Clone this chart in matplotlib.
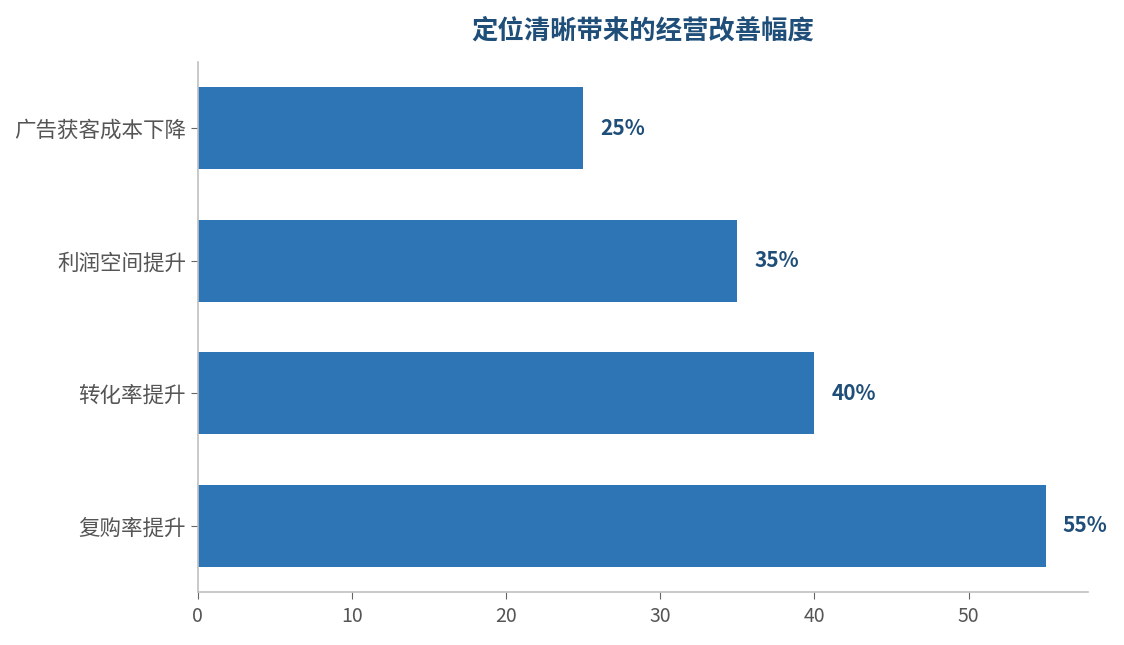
import matplotlib
matplotlib.use("Agg")
import matplotlib.pyplot as plt

plt.rcParams['font.family'] = ['Noto Sans CJK SC', 'DejaVu Sans']

categories = ["复购率提升", "转化率提升", "利润空间提升", "广告获客成本下降"]
values = [55, 40, 35, 25]

bar_color = '#2e75b6'
title_color = '#1f4e79'

fig = plt.figure(figsize=(11.24, 6.45), dpi=100)
ax = fig.add_axes([0.176, 0.082, 0.792, 0.822])

bars = ax.barh(categories, values, height=0.62, color=bar_color)
for bar, v in zip(bars, values):
  ax.text(bar.get_width() + 1.1, bar.get_y() + bar.get_height() / 2, f"{v}%",
          va='center', ha='left', fontsize=15, fontweight='bold', color=title_color)

ax.set_xlim(0, 57.75)
ax.set_ylim(-0.5, 3.5)
ax.set_title("定位清晰带来的经营改善幅度", fontsize=19, fontweight='bold',
             color=title_color, pad=17)

for side in ['top', 'right']:
  ax.spines[side].set_visible(False)
for side in ['left', 'bottom']:
  ax.spines[side].set_color('#c0c0c0')
  ax.spines[side].set_linewidth(1.2)

ax.tick_params(axis='both', colors='#666666', length=5)
ax.tick_params(axis='y', labelsize=15.5)
ax.tick_params(axis='x', labelsize=14, pad=5)
for lab in ax.get_xticklabels() + ax.get_yticklabels():
  lab.set_color('#555555')

fig.savefig("out.png", dpi=100)
